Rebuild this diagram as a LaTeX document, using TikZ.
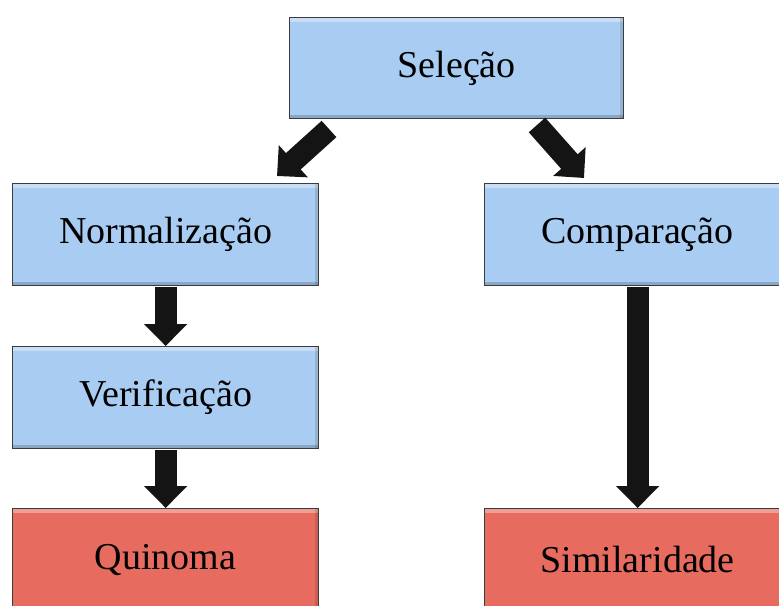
\documentclass[tikz,border=0pt]{standalone}
\usepackage{fontspec}
\setmainfont{Liberation Serif}
\usetikzlibrary{arrows.meta,calc}
\definecolor{boxblue}{HTML}{A9CDF2}
\definecolor{boxred}{HTML}{E76C5F}
\definecolor{boxedge}{HTML}{3C3C3C}
\definecolor{arrowblack}{HTML}{141414}
\definecolor{arrowedge}{HTML}{4A6F94}
\tikzset{
  stagebox/.style={draw=boxedge, line width=1.3pt, rectangle, anchor=north west,
    inner sep=0pt, minimum width=306pt, minimum height=102pt,
    font=\fontsize{38}{40}\selectfont, text=black,
    path picture={
      \fill[white, opacity=0.35] (path picture bounding box.north west) rectangle ([yshift=-4pt]path picture bounding box.north east);
      \fill[black, opacity=0.18] (path picture bounding box.south west) rectangle ([yshift=4pt]path picture bounding box.south east);
      \fill[black, opacity=0.12] (path picture bounding box.north east) rectangle ([xshift=-4pt]path picture bounding box.south east);
    }},
  bluebox/.style={stagebox, fill=boxblue},
  redbox/.style={stagebox, fill=boxred},
  blockarrow/.style={draw=arrowblack, line width=22pt,
    -{Triangle[length=22pt,width=42pt]}, arrowblack}
}
\begin{document}
\begin{tikzpicture}[x=1pt,y=-1pt]
\clip (0,0) rectangle (779,605);
\fill[white] (0,0) rectangle (779,605);

\node[bluebox, minimum width=334pt, minimum height=101pt] (sel) at (289,17) {Seleção};
\node[bluebox] (norm) at (12,183) {Normalização};
\node[bluebox] (comp) at (484,183) {Comparação};
\node[bluebox] (verif) at (12,346) {Verificação};
\node[redbox] (quin) at (12,508) {Quinoma};
\node[redbox] (simil) at (484,508) {Similaridade};

\coordinate (ltail) at (329,129);
\coordinate (ltip) at (277,176);
\coordinate (rtail) at (537,125);
\coordinate (rtip) at (584,178);

\draw[blockarrow] (ltail) -- (ltip);
\draw[blockarrow] (rtail) -- (rtip);
\draw[blockarrow] ([yshift=-1pt]norm.south) -- (verif.north);
\draw[blockarrow] ([yshift=-1pt]verif.south) -- (quin.north);
\draw[blockarrow] ([yshift=-1pt]comp.south) -- (simil.north);
\end{tikzpicture}
\end{document}
